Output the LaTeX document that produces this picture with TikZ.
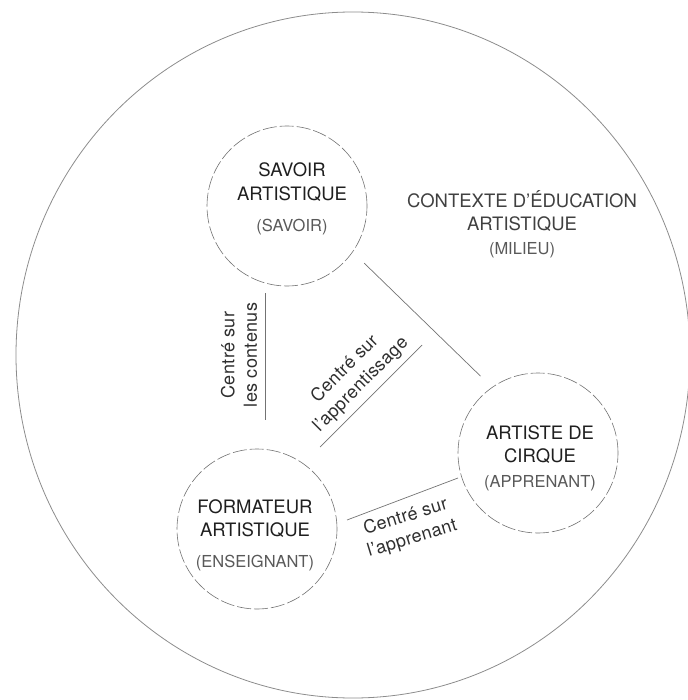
\documentclass[tikz,border=0pt]{standalone}
\usepackage{fontspec}
\setmainfont{TeX Gyre Heros}
\usetikzlibrary{calc}

\tikzset{
  pole/.style={circle, draw=black!55, dash pattern=on 14pt off 3pt, line width=0.6pt,
    minimum size=160pt, inner sep=0pt},
  poletext/.style={align=center, inner sep=0pt, text=black!88,
    font=\fontsize{18.5}{23.5}\selectfont},
  axe/.style={draw=black!55, line width=0.7pt},
  axelabel/.style={align=center, inner sep=0pt, text=black!82,
    font=\fontsize{18}{22.5}\selectfont\addfontfeatures{LetterSpace=2}},
}
\newcommand{\sublabel}[1]{{\fontsize{16.5}{20}\selectfont\color{black!65}#1}}

\begin{document}
\begin{tikzpicture}[x=1pt, y=-1pt]
    \useasboundingbox (0,0) rectangle (687,700);

    % Milieu
    \draw[black!45, line width=0.8pt] (353,355) ellipse [x radius=337pt, y radius=343pt];
    \node[poletext, text=black!75] (milieu) at (522,224)
        {CONTEXTE D'ÉDUCATION\\ARTISTIQUE\\\sublabel{(MILIEU)}};

    % Les trois poles
    \node[pole] (savoir) at (287,206) {};
    \node[pole] (artiste) at (538,453) {};
    \node[pole] (formateur) at (257,529) {};
    \node[poletext] (savoirtxt) at (292,199) {SAVOIR\\ARTISTIQUE\\[8pt]\sublabel{(SAVOIR)}};
    \node[poletext] (artistetxt) at (540,458) {ARTISTE DE\\CIRQUE\\[1pt]\sublabel{(APPRENANT)}};
    \node[poletext] (formateurtxt) at (255,535) {FORMATEUR\\ARTISTIQUE\\[7pt]\sublabel{(ENSEIGNANT)}};

    % Relations
    \draw[axe, shorten <=16pt, shorten >=16pt] (savoir.-35) -- (artiste.125);

    \coordinate (contenusA) at (265,293);
    \coordinate (contenusB) at (265,420);
    \draw[axe] (contenusA) -- (contenusB);
    \node[axelabel, rotate=90] (contenus) at (239,355) {Centré sur\\les contenus};

    \coordinate (apprentissageA) at (422,345);
    \coordinate (apprentissageB) at (320,447);
    \draw[axe] (apprentissageA) -- (apprentissageB);
    \node[axelabel, rotate=45] (apprentissage) at (353,377) {Centré sur\\l'apprentissage};

    \coordinate (apprenantA) at (347,520);
    \coordinate (apprenantB) at (458,478);
    \draw[axe] (apprenantA) -- (apprenantB);
    \node[axelabel, rotate=17] (apprenant) at (409,528) {Centré sur\\l'apprenant};
\end{tikzpicture}
\end{document}
